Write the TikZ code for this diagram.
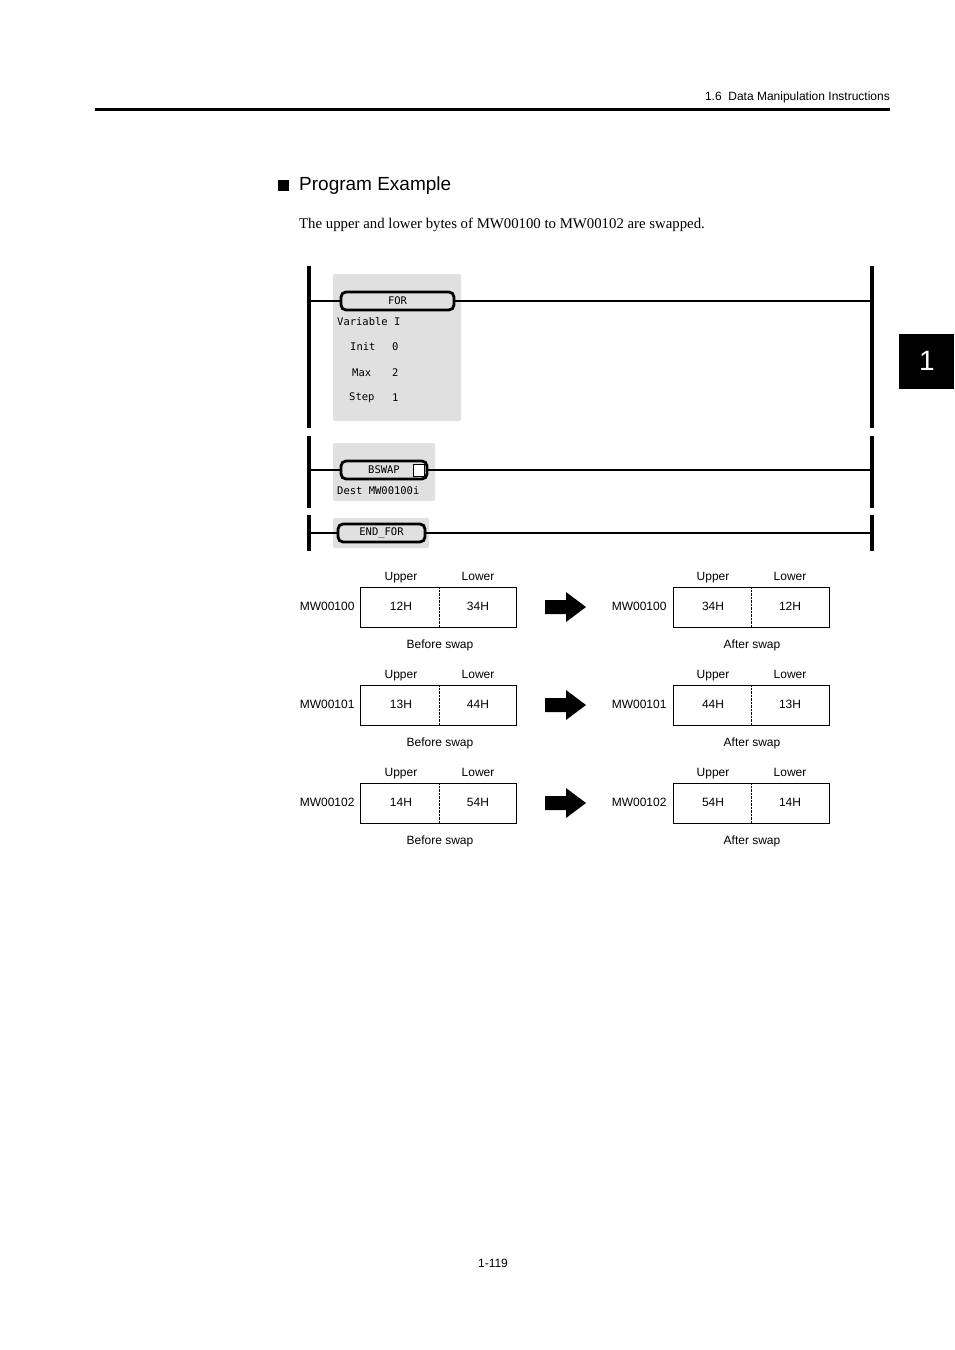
\documentclass[tikz,border=0pt]{standalone}
\usepackage{fontspec}
\setmainfont{Liberation Serif}
\setsansfont{Liberation Sans}
\newfontfamily\ladderfont{DejaVu Sans Mono}
\usetikzlibrary{positioning}

\tikzset{
  lbl/.style={font=\sffamily\fontsize{12}{14}\selectfont, inner sep=0pt, text height=9pt, text depth=2.5pt},
  rail/.style={line width=3.5pt},
  rung/.style={line width=2.6pt},
  graybox/.style={fill=black!12, rounded corners=2pt},
  instr/.style={draw, line width=2.8pt, fill=black!12, rounded corners=5pt, minimum height=18pt, inner sep=0pt, font=\ladderfont\fontsize{10.5}{12}\selectfont},
  ltext/.style={font=\ladderfont\fontsize{10.5}{12}\selectfont, inner sep=0pt, anchor=west},
  cell/.style={draw, line width=0.6pt, minimum width=156pt, minimum height=40pt, inner sep=0pt}
}

\begin{document}
\begin{tikzpicture}[x=1pt, y=-1pt]
        \useasboundingbox (0,0) rectangle (954,1350);

        % Header
        \node[lbl, anchor=east] (head) at (890,97) {1.6\ \ Data Manipulation Instructions};
        \draw[line width=3pt] (95,109) -- (890,109);
        \fill (899,334) rectangle (954,389);
        \node[font=\sffamily\fontsize{28}{30}\selectfont, text=white] (tab) at (927,361) {1};

        % Title
        \fill (278,180) rectangle (289,191);
        \node[font=\sffamily\fontsize{19}{22}\selectfont, anchor=west, inner sep=0pt] (title) at (299,186) {Program Example};
        \node[font=\fontsize{14.8}{17}\selectfont, anchor=west, inner sep=0pt] (intro) at (299,225) {The upper and lower bytes of MW00100 to MW00102 are swapped.};

        % Ladder: FOR
        \fill[graybox] (333,274) rectangle (461,421);
        \draw[rail] (309,266) -- (309,428);
        \draw[rail] (872,266) -- (872,428);
        \node[instr, minimum width=113pt] (for) at (397.5,301) {FOR};
        \draw[rung] (309,301) -- (for.west);
        \draw[rung] (for.east) -- (872,301);
        \node[ltext] (var) at (337,322) {Variable I};
        \node[ltext] (init) at (350,347) {Init};
        \node[ltext] (initv) at (392,347) {0};
        \node[ltext] (max) at (352,373) {Max};
        \node[ltext] (maxv) at (392,373) {2};
        \node[ltext] (step) at (349,398) {Step};
        \node[ltext] (stepv) at (392,398) {1};

        % Ladder: BSWAP
        \fill[graybox] (333,443) rectangle (435,501);
        \draw[rail] (309,436) -- (309,508);
        \draw[rail] (872,436) -- (872,508);
        \node[instr, minimum width=86pt] (bswap) at (384,470) {BSWAP\hspace{14pt}};
        \draw[line width=0.8pt, fill=white] (413,464) rectangle (424,476);
        \draw[rung] (309,470) -- (bswap.west);
        \draw[rung] (bswap.east) -- (872,470);
        \node[ltext] (dest) at (337,491) {Dest MW00100i};

        % Ladder: END_FOR
        \fill[graybox] (333,518) rectangle (429,548);
        \draw[rail] (309,515) -- (309,551);
        \draw[rail] (872,515) -- (872,551);
        \node[instr, minimum width=87pt] (endfor) at (381.5,533) {END\_FOR};
        \draw[rung] (309,533) -- (endfor.west);
        \draw[rung] (endfor.east) -- (872,533);

        % Swap tables
        \foreach \n/\y/\u/\l in {0/607/12H/34H, 1/705/13H/44H, 2/803/14H/54H} {
          \node[cell] (b\n) at (438,\y) {};
          \draw[densely dotted] (439,\y-20) -- (439,\y+20);
          \node[lbl] (bu\n) at (401,\y) {\u};
          \node[lbl] (bl\n) at (478,\y) {\l};
          \node[lbl] at (401,\y-30) {Upper};
          \node[lbl] at (478,\y-30) {Lower};
          \node[lbl, left=5pt of b\n] {MW0010\n};
          \node[lbl] at (440,\y+38) {Before swap};
          \fill (545,\y-7) -- (566,\y-7) -- (566,\y-15) -- (586,\y) -- (566,\y+15) -- (566,\y+7) -- (545,\y+7) -- cycle;
          \node[cell] (a\n) at (751,\y) {};
          \draw[densely dotted] (751,\y-20) -- (751,\y+20);
          \node[lbl] (au\n) at (713,\y) {\l};
          \node[lbl] (al\n) at (790,\y) {\u};
          \node[lbl] at (713,\y-30) {Upper};
          \node[lbl] at (790,\y-30) {Lower};
          \node[lbl, left=6pt of a\n] {MW0010\n};
          \node[lbl] at (752,\y+38) {After swap};
        }

        % Page number
        \node[lbl] (page) at (493,1264) {1-119};
\end{tikzpicture}
\end{document}
